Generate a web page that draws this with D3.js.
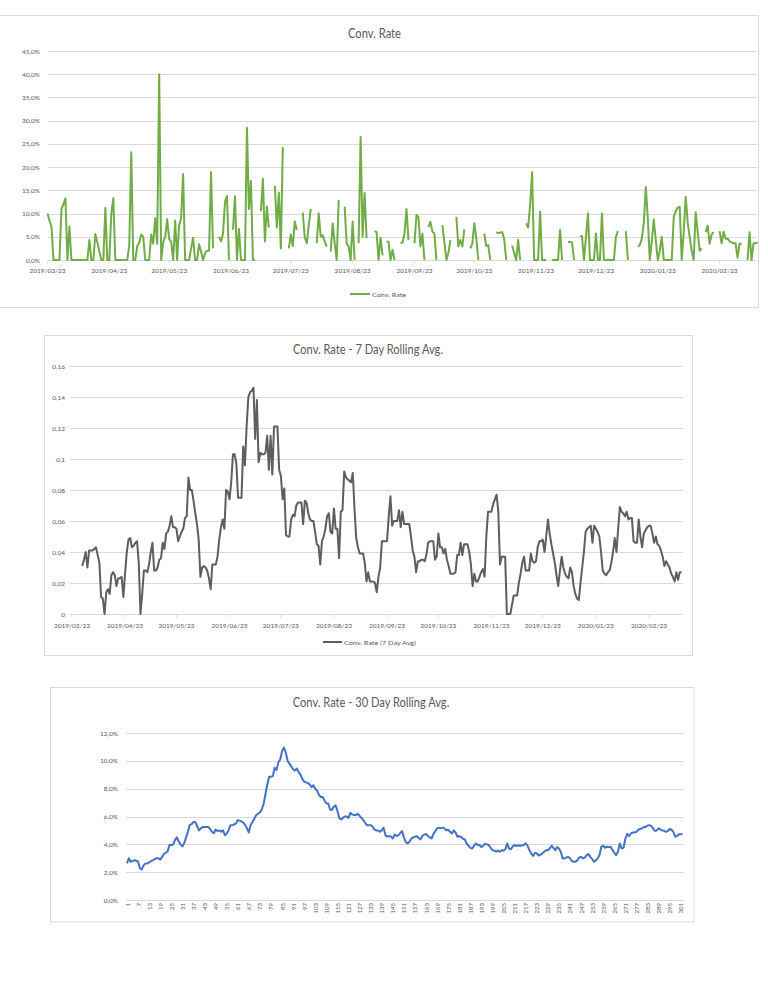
<!DOCTYPE html>
<html><head><meta charset="utf-8">
<script src="https://cdn.jsdelivr.net/npm/d3@7"></script>
<style>body{margin:0;background:#fff}svg{display:block}text{font-family:Lato,"Open Sans",sans-serif}</style>
</head><body>
<svg id="c" width="768" height="1006"></svg>
<script>
// ---------- DATA ----------
const startDate = "2019-03-23";
const dateTicks = ["2019/03/23","2019/04/23","2019/05/23","2019/06/23","2019/07/23","2019/08/23",
  "2019/09/23","2019/10/23","2019/11/23","2019/12/23","2020/01/23","2020/02/23"];
// daily conversion rate in % (null = no data)
const convRate = [
10.0,8.5,7.2,0,0,0,0,11.0,12.0,13.3,        // 0
0,7.2,0,0,0,0,0,0,0,0,                     // 10
0,4.3,0,0,5.6,3.8,1.8,0,0,11.2,            // 20
0,0,10.0,13.3,0,0,0,0,0,0,                 // 30
0,3.2,23.2,0,0,3.0,3.7,5.5,5.0,0,          // 40
0,0,5.5,3.5,9.0,3.5,40.0,0,3.8,5.0,        // 50
8.8,4.5,4.0,0,8.5,0,7.5,9.0,18.5,0,        // 60
0,0,2.5,4.8,0,0,3.4,1.8,0,1.5,             // 70
2.0,2.0,18.9,2.5,null,null,5.0,4.0,5.7,12.5, // 80
13.8,0,null,6.5,13.7,0,6.7,0,0,0,          // 90
28.5,11.0,17.0,0,0,null,null,10.5,17.5,4.0, // 100
11.5,7.0,null,null,16.0,7.0,14.5,2.5,24.3,null, // 110
null,2.5,5.5,3.0,8.3,6.5,null,null,10.2,4.8, // 120
3.6,7.5,11.0,null,null,3.6,10.0,5.0,5.3,4.0, // 130
2.9,null,1.8,7.9,3.6,0,12.9,null,null,11.5, // 140
3.5,3.0,0,8.3,0,null,3.6,26.5,5.0,14.4,    // 150
4.7,null,null,null,6.2,6.0,0,4.8,1.0,null, // 160
4.0,3.9,0,2.2,0,null,null,3.7,3.7,5.7,     // 170
11.0,4.3,null,null,3.6,9.7,9.2,2.9,5.7,0,  // 180
null,7.1,8.2,6.1,5.7,0,null,null,7.5,3.8,  // 190
0,1.5,4.3,null,null,9.3,2.9,4.3,2.9,6.6,   // 200
null,null,2.5,3.5,7.9,4.7,0,null,null,5.7, // 210
3.0,3.2,0,null,null,6.0,5.8,5.9,6.0,4.5,   // 220
0,null,null,3.1,1.5,0,4.3,0,null,null,     // 230
7.9,7.0,12.0,18.9,0,0,0,10.4,0,0,          // 240
0,null,null,0,0,0,0,6.5,0,null,            // 250
null,3.9,3.9,3.8,0,null,null,5.1,5.1,0,    // 260
5.0,10.0,0,0,0,5.7,0,0,10.0,0,             // 270
0,0,0,0,0,5.0,6.2,null,null,null,          // 280
6.2,0,null,null,null,null,2.9,3.2,4.6,8.0, // 290
15.7,9.0,0,4.0,8.7,4.3,0,2.0,5.0,0,        // 300
0,0,0,0,9.3,10.5,11.3,11.4,0,6.0,          // 310
13.6,8.0,5.0,2.0,0,10.3,6.0,2.0,2.5,null,  // 320
6.0,7.4,3.5,5.5,6.0,null,null,6.2,3.6,6.1, // 330
4.6,4.6,4.0,3.8,3.6,3.6,0.5,3.5,3.5,null,  // 340
null,0,6.0,0,3.6,3.6,3.8                   // 350
];
// 7 day rolling average, starting 2019-03-29
const avg7Start = "2019-03-29";
const avg7 = [
0.031,0.035,0.040,0.030,0.041,0.041,0.041,0.042,0.043,0.038,
0.033,0.011,0.010,0.000,0.014,0.016,0.013,0.025,0.027,0.025,
0.018,0.023,0.023,0.024,0.011,0.026,0.040,0.048,0.049,0.043,
0.044,0.046,0.047,0.033,0.000,0.013,0.028,0.028,0.027,0.032,
0.040,0.046,0.028,0.028,0.030,0.035,0.036,0.046,0.042,0.052,
0.053,0.057,0.063,0.056,0.056,0.055,0.047,0.050,0.053,0.055,
0.062,0.063,0.088,0.080,0.080,0.073,0.065,0.058,0.048,0.024,
0.030,0.031,0.030,0.028,0.023,0.016,0.032,0.032,0.032,0.037,
0.048,0.056,0.061,0.055,0.080,0.079,0.074,0.085,0.103,0.103,
0.097,0.075,0.075,0.075,0.108,0.096,0.121,0.140,0.143,0.144,
0.146,0.113,0.138,0.098,0.104,0.103,0.103,0.104,0.115,0.093,
0.115,0.090,0.121,0.121,0.121,0.093,0.089,0.074,0.081,0.051,
0.050,0.050,0.061,0.064,0.063,0.070,0.072,0.072,0.072,0.058,
0.073,0.072,0.065,0.061,0.060,0.060,0.053,0.045,0.044,0.032,
0.047,0.050,0.055,0.063,0.065,0.053,0.052,0.068,0.055,0.055,
0.036,0.066,0.067,0.092,0.088,0.087,0.086,0.085,0.091,0.068,
0.049,0.043,0.039,0.039,0.039,0.033,0.021,0.027,0.021,0.021,
0.021,0.020,0.014,0.024,0.030,0.047,0.047,0.047,0.047,0.063,
0.076,0.057,0.060,0.060,0.060,0.067,0.056,0.066,0.058,0.058,
0.058,0.058,0.050,0.041,0.037,0.027,0.034,0.034,0.035,0.035,
0.034,0.038,0.046,0.047,0.047,0.047,0.035,0.037,0.052,0.043,
0.043,0.039,0.042,0.035,0.031,0.026,0.026,0.026,0.027,0.038,
0.038,0.046,0.038,0.045,0.045,0.045,0.040,0.032,0.018,0.026,
0.021,0.021,0.024,0.027,0.029,0.024,0.050,0.066,0.066,0.066,
0.071,0.074,0.077,0.066,0.032,0.037,0.037,0.037,0.000,0.000,
0.000,0.006,0.012,0.012,0.012,0.020,0.026,0.033,0.037,0.028,
0.028,0.028,0.039,0.034,0.033,0.034,0.043,0.047,0.047,0.048,
0.040,0.050,0.061,0.052,0.045,0.039,0.033,0.025,0.018,0.028,
0.037,0.030,0.026,0.024,0.023,0.030,0.027,0.018,0.013,0.010,
0.009,0.020,0.030,0.040,0.053,0.055,0.056,0.057,0.046,0.057,
0.055,0.053,0.050,0.040,0.028,0.026,0.025,0.027,0.028,0.033,
0.040,0.049,0.040,0.055,0.069,0.066,0.065,0.063,0.066,0.061,
0.062,0.062,0.047,0.046,0.046,0.061,0.050,0.043,0.052,0.054,
0.056,0.057,0.057,0.052,0.046,0.050,0.045,0.044,0.041,0.037,
0.031,0.034,0.032,0.030,0.026,0.024,0.021,0.027,0.022,0.027,0.027
];
// 30 day rolling average in %, categories 1..302
const avg30 = [
2.63,3.0,2.75,2.8,2.85,2.82,2.75,2.27,2.2,2.5,
2.63,2.63,2.7,2.8,2.85,2.95,3.0,3.0,2.9,3.1,
3.3,3.4,3.5,3.95,3.95,4.0,4.3,4.5,4.2,4.0,
3.85,4.1,4.5,4.9,5.4,5.45,5.6,5.6,5.3,5.0,
5.15,5.25,5.25,5.25,5.25,5.1,4.9,4.8,5.07,4.95,
5.0,4.9,5.0,4.66,4.78,5.0,5.38,5.38,5.42,5.5,
5.74,5.7,5.65,5.55,5.4,5.15,4.85,5.4,5.6,5.85,
6.1,6.2,6.3,6.5,6.9,7.6,8.3,8.85,8.85,8.9,
9.5,9.35,9.9,10.1,10.7,10.95,10.6,10.0,9.8,9.6,
9.4,9.3,9.45,9.2,9.0,8.7,8.5,8.45,8.4,8.3,
8.1,8.25,8.0,7.85,7.55,7.4,7.4,7.15,6.94,6.94,
6.5,6.47,6.7,6.8,6.4,5.9,5.78,5.9,6.0,6.0,
5.9,6.27,6.15,6.1,6.1,6.2,6.05,5.9,5.74,5.55,
5.38,5.38,5.38,5.3,5.07,5.0,5.0,4.9,5.0,5.2,
4.66,4.55,4.6,4.55,4.42,4.7,4.6,4.65,4.8,4.95,
4.5,4.15,4.06,4.18,4.4,4.5,4.55,4.58,4.45,4.35,
4.6,4.7,4.75,4.6,4.5,4.42,4.73,4.95,5.15,5.2,
5.15,5.2,5.15,5.0,5.05,4.9,4.78,5.0,4.85,4.55,
4.6,4.52,4.4,4.35,4.06,3.9,3.75,3.7,3.9,4.06,
3.95,3.95,3.8,3.9,4.05,4.0,3.95,3.75,3.58,3.55,
3.47,3.55,3.47,3.58,3.55,3.65,4.06,3.7,3.65,3.85,
3.94,3.88,3.94,3.88,3.94,3.94,4.08,3.9,3.58,3.35,
3.16,3.4,3.35,3.2,3.25,3.35,3.47,3.58,3.58,3.7,
3.9,3.75,3.58,3.8,3.7,3.47,2.99,2.99,3.05,3.1,
3.0,2.8,2.75,2.75,2.85,3.06,3.1,3.0,3.05,3.23,
3.3,3.1,2.95,2.75,2.85,2.99,3.23,3.83,3.9,3.75,
3.83,3.8,3.83,3.6,3.4,3.23,3.47,4.06,3.7,3.75,
4.4,4.75,4.6,4.78,4.85,4.85,4.9,5.05,5.1,5.15,
5.25,5.25,5.35,5.38,5.32,5.15,4.97,5.0,5.15,5.07,
5.0,4.97,4.9,4.95,5.1,5.05,4.9,4.55,4.6,4.73,
4.73,4.73
];
const yTicks1 = [0,5,10,15,20,25,30,35,40,45];
const yTicks2 = [0,0.02,0.04,0.06,0.08,0.10,0.12,0.14,0.16];
const yTicks3 = [0,2,4,6,8,10,12];
const titles = ["Conv. Rate","Conv. Rate - 7 Day Rolling Avg.","Conv. Rate - 30 Day Rolling Avg."];
const legends = ["Conv. Rate","Conv. Rate (7 Day Avg)"];

// ---------- DRAW ----------
const svg = d3.select("#c");
const GRID = "#d9d9d9", TXT = "#595959";
const pDay = d3.utcParse("%Y-%m-%d"), pTick = d3.utcParse("%Y/%m/%d");
const t0 = pDay(startDate);
const tEnd = d3.utcDay.offset(t0, convRate.length - 1);
const pct = v => v.toFixed(1).replace(".", ",") + "%";

function frame(x, y, w, h){
  svg.append("rect").attr("x",x).attr("y",y).attr("width",w).attr("height",h)
    .attr("fill","none").attr("stroke",GRID).attr("stroke-width",1);
}
function title(txt, cx, cy, len){
  svg.append("text").attr("x",cx).attr("y",cy).attr("text-anchor","middle")
    .attr("dominant-baseline","central").attr("font-size",12.5).attr("fill",TXT)
    .attr("textLength",len).attr("lengthAdjust","spacingAndGlyphs").text(txt);
}
function yAxis(g, y, ticks, x0, x1, lx, fmt){
  g.selectAll(".grid").data(ticks).join("line")
    .attr("x1",x0).attr("x2",x1).attr("y1",d=>Math.round(y(d))+0.5).attr("y2",d=>Math.round(y(d))+0.5)
    .attr("stroke",GRID).attr("stroke-width",1);
  g.selectAll(".yl").data(ticks).join("text")
    .attr("x",lx).attr("y",d=>y(d)).attr("text-anchor","end").attr("dominant-baseline","central")
    .attr("font-size",6.5).attr("fill",TXT).text(fmt);
}
function dateAxis(g, x, y0, ly){
  const tk = dateTicks.map(s => pTick(s));
  g.selectAll(".tk").data(tk).join("line")
    .attr("x1",d=>x(d)).attr("x2",d=>x(d)).attr("y1",y0).attr("y2",y0+3)
    .attr("stroke",GRID);
  g.selectAll(".xl").data(dateTicks).join("text")
    .attr("x",(d,i)=>x(tk[i])).attr("y",ly).attr("text-anchor","middle").attr("dominant-baseline","central")
    .attr("font-size",6.5).attr("fill",TXT).text(d=>d);
}
function legend(txt, x0, x1, y, color, len){
  svg.append("line").attr("x1",x0).attr("x2",x1).attr("y1",y).attr("y2",y)
    .attr("stroke",color).attr("stroke-width",2);
  svg.append("text").attr("x",x1+2).attr("y",y).attr("dominant-baseline","central")
    .attr("font-size",6.3).attr("fill",TXT).attr("textLength",len).attr("lengthAdjust","spacingAndGlyphs").text(txt);
}

// Chart 1
{
  frame(-10.5, 15.5, 769, 292);
  title(titles[0], 374.5, 33, 53);
  const g = svg.append("g");
  const x = d3.scaleUtc().domain([t0, tEnd]).range([47.5, 757.5]);
  const y = d3.scaleLinear().domain([0,45]).range([260,51]);
  yAxis(g, y, yTicks1, 48, 757, 40, d=>pct(d));
  dateAxis(g, x, 260.5, 270.5);
  const line = d3.line().defined(d=>d!=null)
    .x((d,i)=>x(d3.utcDay.offset(t0,i))).y(d=>y(d));
  g.append("path").datum(convRate).attr("d",line).attr("fill","none")
    .attr("stroke","#70ad47").attr("stroke-width",2).attr("stroke-linejoin","round");
  legend(legends[0], 350, 370, 294, "#70ad47", 34);
}

// Chart 2
{
  frame(44.5, 335.5, 648, 320);
  title(titles[1], 368, 349, 150);
  const g = svg.append("g");
  const x = d3.scaleUtc().domain([t0, tEnd]).range([72, 681.5]);
  const y = d3.scaleLinear().domain([0,0.16]).range([614,366]);
  yAxis(g, y, yTicks2, 70, 683, 65, d=> d===0 ? "0" : String(+d.toFixed(2)).replace(".",","));
  dateAxis(g, x, 614.5, 625);
  const s7 = pDay(avg7Start);
  const line = d3.line().x((d,i)=>x(d3.utcDay.offset(s7,i))).y(d=>y(d));
  g.append("path").datum(avg7).attr("d",line).attr("fill","none")
    .attr("stroke","#5e5e5e").attr("stroke-width",2).attr("stroke-linejoin","round");
  legend(legends[1], 323, 342, 642, "#5e5e5e", 72);
}

// Chart 3
{
  frame(50.5, 687.5, 643.5, 234.5);
  title(titles[2], 371, 702.5, 156.5);
  const g = svg.append("g");
  const cats = avg30.map((d,i)=>i+1);
  const x = d3.scaleBand().domain(cats).range([126.1, 683.5]);
  const y = d3.scaleLinear().domain([0,12]).range([900,733]);
  yAxis(g, y, yTicks3, 126, 684, 118, d=>pct(d));
  const lab = cats.filter(c => c % 6 === 1);
  g.selectAll(".xl").data(lab).join("text")
    .attr("transform", d=>`translate(${x(d)+x.bandwidth()/2},903) rotate(-90)`)
    .attr("text-anchor","end").attr("dominant-baseline","central")
    .attr("font-size",6).attr("fill",TXT).text(d=>d);
  const line = d3.line().x((d,i)=>x(cats[i])+x.bandwidth()/2).y(d=>y(d));
  g.append("path").datum(avg30).attr("d",line).attr("fill","none")
    .attr("stroke","#4472c4").attr("stroke-width",2).attr("stroke-linejoin","round");
}
</script>
</body></html>
